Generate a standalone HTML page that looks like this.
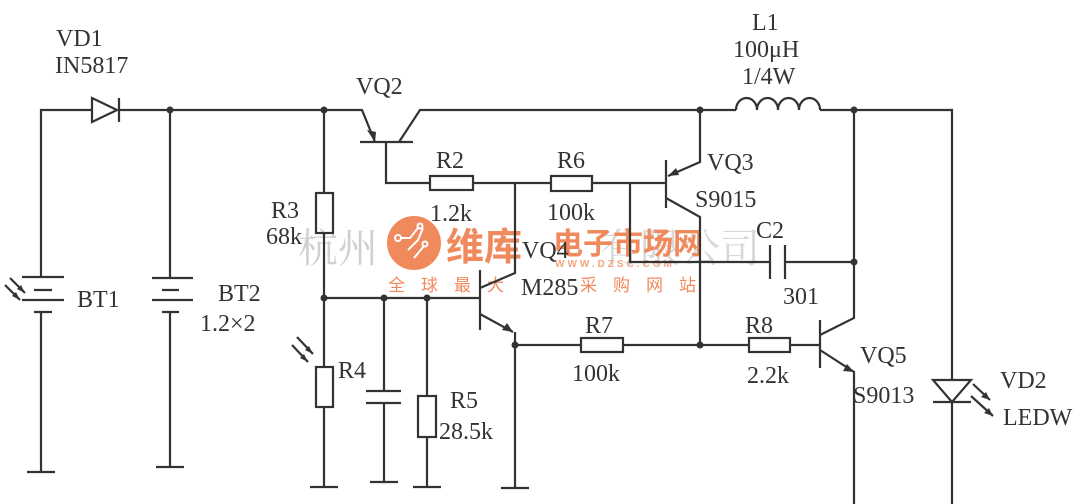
<!DOCTYPE html>
<html><head><meta charset="utf-8"><style>
html,body{margin:0;padding:0;background:#fff;}
svg{display:block}
text{font-family:"Liberation Serif","Noto Serif CJK SC",serif;fill:#333;}
</style></head><body>
<svg width="1091" height="504" viewBox="0 0 1091 504" xmlns="http://www.w3.org/2000/svg">
<!-- watermark -->
<g>
<text x="298" y="262" font-size="40" style="fill:#d0d0d0">杭州</text>
<text x="600" y="262" font-size="40" style="fill:#d8d8d8">有限公司</text>
<circle cx="414" cy="243" r="27" fill="#f08a5d"/>
<g stroke="#fff" stroke-width="2" fill="none"><path d="M400 238 h10 l8 -10 M408 250 l10 -10 l5 -12 M414 258 l10 -12"/><circle cx="398" cy="238" r="3"/><circle cx="420" cy="226" r="2.5"/><circle cx="425" cy="244" r="2.5"/></g>
<text x="446" y="260" font-size="38" font-weight="bold" style="fill:#f08a5d;font-family:'Noto Sans CJK SC',sans-serif">维库</text>
<text x="553" y="254" font-size="30" font-weight="bold" style="fill:#f08a5d;font-family:'Noto Sans CJK SC',sans-serif">电子市场网</text>
<text x="555" y="267" font-size="10" font-weight="bold" style="fill:#f4a582;font-family:'Liberation Sans',sans-serif" letter-spacing="3">WWW.DZSC.COM</text>
<text x="388" y="291" font-size="17" style="fill:#f08a5d;font-family:'Noto Sans CJK SC',sans-serif" letter-spacing="16">全球最大</text>
<text x="580" y="291" font-size="17" style="fill:#f08a5d;font-family:'Noto Sans CJK SC',sans-serif" letter-spacing="16">采购网站</text>
</g>
<g stroke="#333" stroke-width="2.2" fill="none">
<!-- top wire -->
<path d="M41 277 V110 H92 M119 110 H362 L375 142 M360 142 H413 M399 142 L420 110 H736 M820 110 H952 V380"/>
<!-- diode VD1 -->
<path d="M92 98 V122 L117 110 Z M119 98 V122"/>
<!-- inductor -->
<path d="M736 110 a10.5 12 0 0 1 21 0 a10.5 12 0 0 1 21 0 a10.5 12 0 0 1 21 0 a10.5 12 0 0 1 21 0"/>
<!-- BT1 -->
<path d="M22 277 H64 M34 290 H52 M22 300 H64 M34 312 H52 M41 312 V472 M27 472 H55"/>
<!-- BT2 -->
<path d="M170 110 V278 M152 278 H193 M162 290 H179 M152 300 H193 M162 312 H179 M170 312 V467 M156 467 H184"/>
<!-- R3/R4 column -->
<path d="M324 110 V193 M324 233 V367 M324 407 V487 M310 487 H338"/>
<rect x="316" y="193" width="17" height="40"/>
<rect x="316" y="367" width="17" height="40"/>
<!-- horizontal to VQ4 base -->
<path d="M324 298 H480 M384 298 V391 M366 391 H401 M366 403 H401 M384 403 V482 M370 482 H398 M427 298 V396 M427 437 V487 M413 487 H441"/>
<rect x="418" y="396" width="18" height="41"/>
<!-- VQ2 base lead, R2 -->
<path d="M386 142 V183 H430 M473 183 H551 M592 183 H666 M515 183 V273 L480 288"/>
<rect x="430" y="176" width="43" height="14"/>
<rect x="551" y="176" width="41" height="15"/>
<!-- VQ4 -->
<path d="M480 270 V330 M480 314 L513 332 M515 332 V488 M501 488 H529"/>
<!-- R7 row -->
<path d="M515 345 H581 M623 345 H749 M790 345 H820"/>
<rect x="581" y="338" width="42" height="14"/>
<rect x="749" y="338" width="41" height="14"/>
<!-- VQ3 -->
<path d="M700 110 V162 L668 176 M666 160 V208 M666 198 L700 217 V345 M630 183 V262 H770 M770 245 V279 M785 245 V279 M785 262 H854"/>
<!-- right column -->
<path d="M854 110 V318 L820 335 M820 320 V368 M820 350 L854 372 V504"/>
<!-- LED -->
<path d="M933 380 H971 L952 402 Z M933 402 H971 M952 402 V504"/>
<path d="M973 384 L990 400 M971 396 L993 416"/>
<!-- light arrows -->
<path d="M5 285 L20 300 M10 278 L25 293 M292 345 L308 362 M297 337 L313 354"/>
</g>
<g fill="#333">
<circle cx="170" cy="110" r="3.5"/><circle cx="324" cy="110" r="3.5"/><circle cx="700" cy="110" r="3.5"/><circle cx="854" cy="110" r="3.5"/>
<circle cx="324" cy="298" r="3.5"/><circle cx="384" cy="298" r="3.5"/><circle cx="427" cy="298" r="3.5"/>
<circle cx="515" cy="345" r="3.5"/><circle cx="700" cy="345" r="3.5"/><circle cx="854" cy="262" r="3.5"/>
<path d="M375 142 L367 130 L376 132 Z"/>
<path d="M668 176 L676 168 L679 175 Z"/>
<path d="M513 332 L502 330 L507 323 Z"/>
<path d="M854 372 L843 371 L847 364 Z"/>
<path d="M990 400 L981 397 L986 392 Z M993 416 L984 413 L989 408 Z"/>
<path d="M20 300 L12 296 L16 292 Z M25 293 L17 289 L21 285 Z M308 362 L300 358 L304 354 Z M313 354 L305 350 L309 346 Z"/>
</g>
<g font-size="24">
<text x="56" y="46">VD1</text>
<text x="55" y="73">IN5817</text>
<text x="752" y="30">L1</text>
<text x="733" y="57">100μH</text>
<text x="742" y="84">1/4W</text>
<text x="356" y="94">VQ2</text>
<text x="436" y="168">R2</text>
<text x="430" y="221">1.2k</text>
<text x="557" y="168">R6</text>
<text x="547" y="220">100k</text>
<text x="707" y="170">VQ3</text>
<text x="695" y="207">S9015</text>
<text x="756" y="238">C2</text>
<text x="783" y="304">301</text>
<text x="271" y="218">R3</text>
<text x="266" y="244">68k</text>
<text x="77" y="307">BT1</text>
<text x="218" y="301">BT2</text>
<text x="200" y="331">1.2×2</text>
<text x="522" y="258">VQ4</text>
<text x="521" y="295">M285</text>
<text x="338" y="378">R4</text>
<text x="450" y="408">R5</text>
<text x="439" y="439">28.5k</text>
<text x="585" y="333">R7</text>
<text x="572" y="381">100k</text>
<text x="745" y="333">R8</text>
<text x="747" y="383">2.2k</text>
<text x="860" y="363">VQ5</text>
<text x="853" y="403">S9013</text>
<text x="1000" y="388">VD2</text>
<text x="1003" y="425">LEDW</text>
</g>
</svg>
</body></html>
